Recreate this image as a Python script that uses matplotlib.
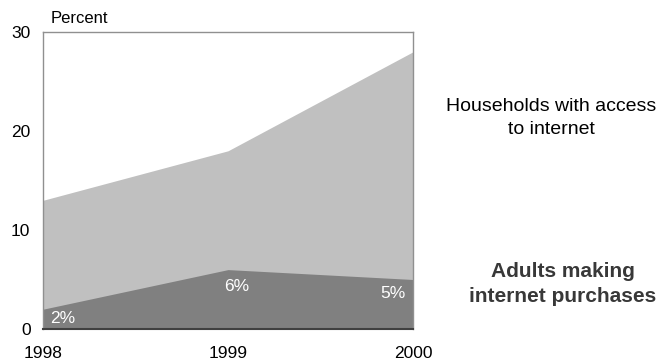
import matplotlib
matplotlib.use("Agg")
import matplotlib.pyplot as plt

plt.rcParams["font.family"] = ["Liberation Sans", "DejaVu Sans"]

years = [1998, 1999, 2000]
households = [13, 18, 28]
adults = [2, 6, 5]
adult_labels = ["2%", "6%", "5%"]

fig = plt.figure(figsize=(6.61, 3.63), dpi=100)
ax = fig.add_axes([43 / 661, 1 - 329 / 363, 370 / 661, 297 / 363])

ax.fill_between(years, 0, households, color="#c0c0c0", linewidth=0)
ax.fill_between(years, 0, adults, color="#808080", linewidth=0)

ax.set_xlim(1998, 2000)
ax.set_ylim(0, 30)
ax.set_xticks(years)
ax.set_yticks([0, 10, 20, 30])
ax.tick_params(length=0, labelsize=12.5, colors="#000000")
ax.tick_params(axis="x", pad=12)
ax.tick_params(axis="y", pad=9)

for side in ["top", "left", "right"]:
    ax.spines[side].set_color("#909090")
    ax.spines[side].set_linewidth(1)
ax.spines["bottom"].set_color("#404040")
ax.spines["bottom"].set_linewidth(1.5)

# value labels inside the dark area
label_x = [1998.04, 1999.045, 1999.96]
label_drop = [0.9, 1.7, 1.4]
aligns = ["left", "center", "right"]
for x, y, lab, d, ha in zip(label_x, adults, adult_labels, label_drop, aligns):
    ax.text(x, y - d, lab, color="white", fontsize=12.5, ha=ha, va="center")

ax.text(0.02, 1.02, "Percent", transform=ax.transAxes, fontsize=12, ha="left", va="bottom")

fig.text(551 / 661, 1 - 118 / 363, "Households with access\nto internet",
         ha="center", va="center", fontsize=14, color="#000000", linespacing=1.45)
fig.text(563 / 661, 1 - 284 / 363, "Adults making\ninternet purchases",
         ha="center", va="center", fontsize=15, fontweight="bold", color="#383838",
         linespacing=1.4)

fig.savefig("out.png", dpi=100)
